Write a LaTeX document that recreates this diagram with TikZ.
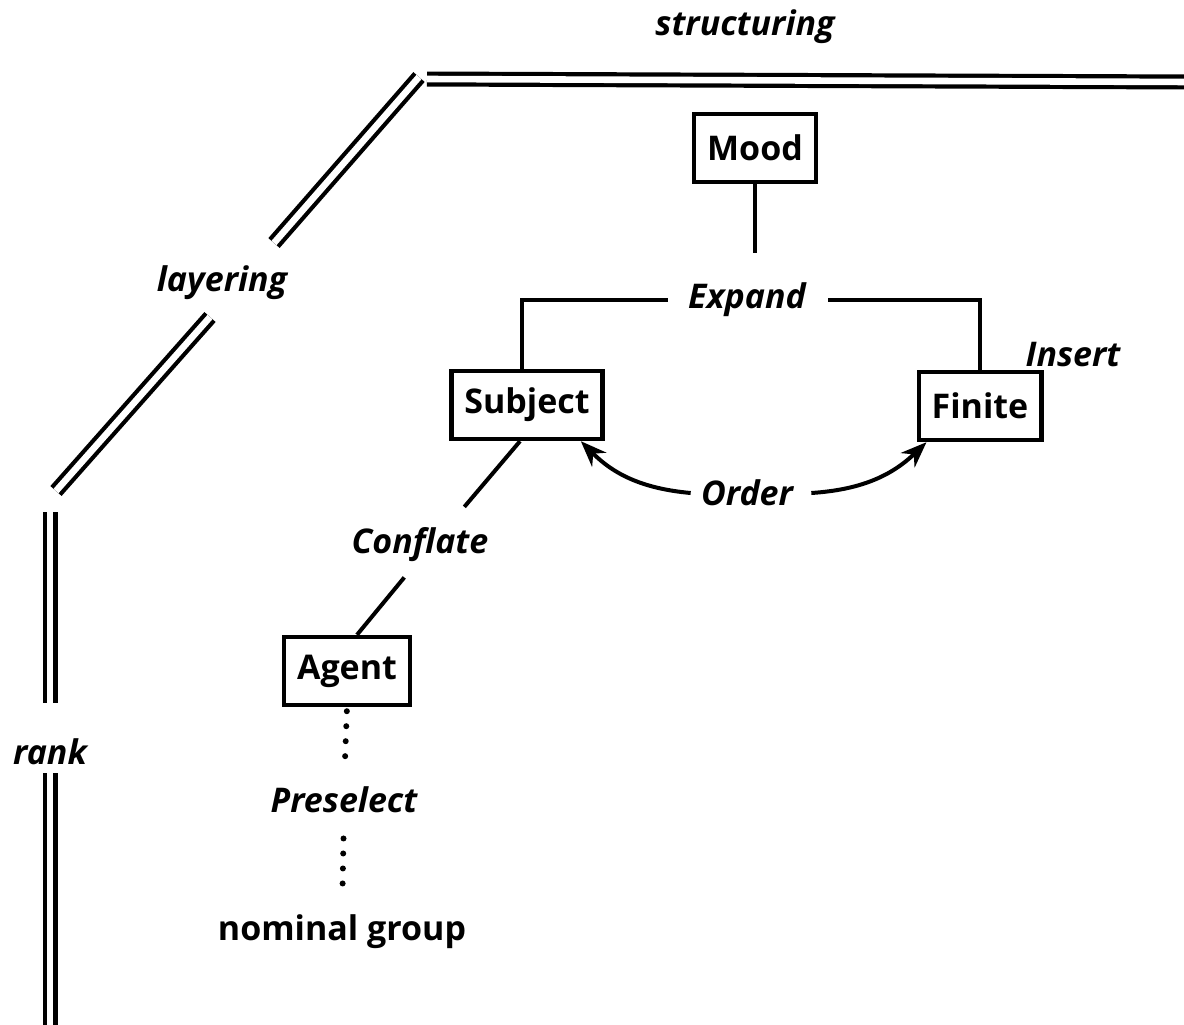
\documentclass[tikz,border=0pt]{standalone}
\usepackage{fontspec}
\setmainfont{Open Sans}
\usetikzlibrary{arrows.meta}

\tikzset{
  box/.style={draw, line width=2.2pt, inner xsep=6.5pt, minimum height=34pt, font=\bfseries\fontsize{17}{20}\selectfont},
  lab/.style={inner sep=0pt, font=\bfseries\itshape\fontsize{17}{20}\selectfont},
  conn/.style={line width=2pt},
  dotline/.style={line width=3pt, line cap=round, dash pattern=on 0pt off 7.5pt},
  border/.style={line width=2.1pt, double, double distance=3.3pt},
  arr/.style={line width=2pt, -{Stealth[length=13pt,width=10pt]}},
}

\begin{document}
\begin{tikzpicture}[x=0.5pt,y=-0.5pt]
\useasboundingbox (0,0) rectangle (1184,1024);

%the borders
\node [lab] (structuring) at (745,27) {structuring};
\node [lab] (layering) at (222,283) {layering};
\node [lab] (rank) at (50,752) {rank};
\coordinate (top a) at (427,79);
\coordinate (top b) at (1192,82);
\coordinate (diag a) at (419,77);
\coordinate (diag b) at (274,243);
\coordinate (diag c) at (210,317);
\coordinate (diag d) at (56,491);
\coordinate (rank a) at (50,512);
\coordinate (rank b) at (50,703);
\coordinate (rank c) at (50,773);
\coordinate (rank d) at (50,1030);
\draw [border] (top a) -- (top b);
\draw [border] (diag a) -- (diag b);
\draw [border] (diag c) -- (diag d);
\draw [border] (rank a) -- (rank b);
\draw [border] (rank c) -- (rank d);

%the functions
\node [box] (mood) at (755,148) {Mood};
\node [lab] (expand) at (747,300) {Expand};
\node [box] (subject) at (527,405) {Subject};
\node [box] (finite) at (980,406) {Finite};
\node [lab] (insert) at (1073,355) {Insert};
\node [lab] (order) at (747,493) {Order};
\node [lab] (conflate) at (420,545) {Conflate};
\node [box] (agent) at (347,671) {Agent};
\node [lab] (preselect) at (344,800) {Preselect};
\node [lab, font=\bfseries\fontsize{17}{20}\selectfont] (nomgroup) at (342,932) {nominal group};

%the links
\draw [conn, shorten >=15pt] (mood.south) -- (mood.south |- expand.north);
\draw [conn] ([xshift=-10pt]expand.west) -| ([xshift=-2.5pt]subject.north);
\draw [conn] ([xshift=11pt]expand.east) -| (finite.north);
\draw [conn, shorten >=25pt] ([xshift=-3.5pt]subject.south) -- ([xshift=6pt]conflate.center);
\draw [conn, shorten <=21pt] ([xshift=5.5pt]conflate.center) -- ([xshift=5pt]agent.north);
\draw [dotline, shorten <=2pt, shorten >=15pt] (agent.south) -- (preselect.north);
\draw [dotline, shorten <=12.5pt, shorten >=14pt] (preselect.south) -- (nomgroup.north);

%the order arrows
\draw [arr] ([xshift=-5pt]order.west) to [bend left=20] ([xshift=-12pt]subject.south east);
\draw [arr] ([xshift=9pt]order.east) to [bend right=20] ([xshift=5pt]finite.south west);
\end{tikzpicture}
\end{document}
